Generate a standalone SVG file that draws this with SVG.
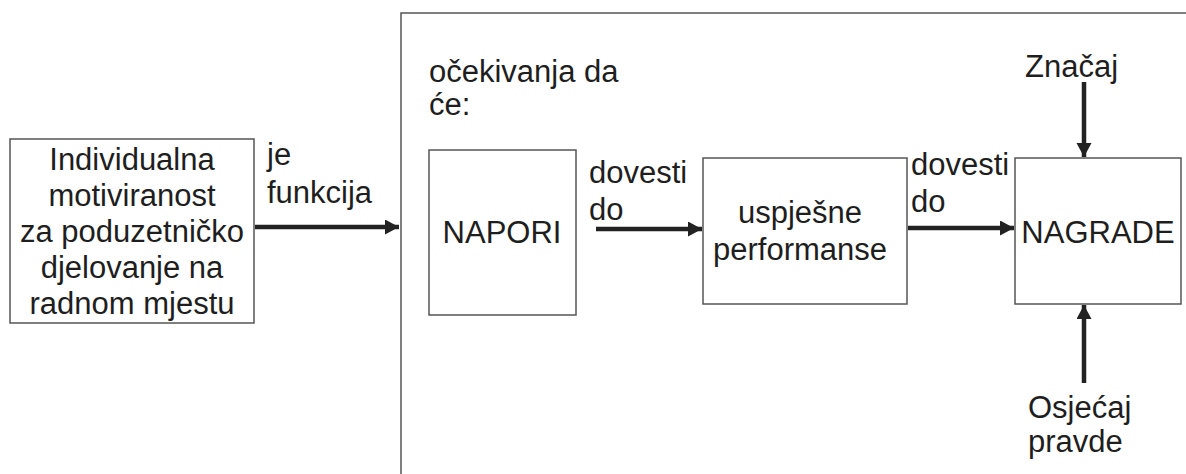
<svg xmlns="http://www.w3.org/2000/svg" width="1186" height="474" viewBox="0 0 1186 474">
<style>
.box{fill:#fff;stroke:#555;stroke-width:1.5}
.frame{fill:none;stroke:#555;stroke-width:1.5}
.t{font-family:"Liberation Sans",Arial,sans-serif;font-size:31px;fill:#1e1e1e}
.c{text-anchor:middle}
.arr{stroke:#222;stroke-width:4.5;fill:none;marker-end:url(#ah)}
</style>
<defs>
<marker id="ah" markerUnits="userSpaceOnUse" markerWidth="16" markerHeight="16" refX="14" refY="7.5" orient="auto">
<path d="M0,0 L14,7.5 L0,15 z" fill="#222"/>
</marker>
</defs>
<g id="frame">
<path class="frame" d="M401,474 L401,13 L1186,13"/>
<text class="t" x="429" y="82">očekivanja da</text>
<text class="t" x="429" y="115">će:</text>
</g>
<g id="motivacija">
<rect class="box" x="10" y="139" width="244" height="184"/>
<text class="t c" x="132" y="170">Individualna</text>
<text class="t c" x="132" y="206">motiviranost</text>
<text class="t c" x="132" y="242">za poduzetničko</text>
<text class="t c" x="132" y="278">djelovanje na</text>
<text class="t c" x="132" y="314">radnom mjestu</text>
</g>
<g id="napori">
<rect class="box" x="429" y="150" width="147" height="165"/>
<text class="t c" x="502" y="243">NAPORI</text>
</g>
<g id="performanse">
<rect class="box" x="703" y="158" width="204" height="146"/>
<text class="t c" x="800" y="223">uspješne</text>
<text class="t c" x="800" y="260">performanse</text>
</g>
<g id="nagrade">
<rect class="box" x="1015" y="158" width="166" height="146"/>
<text class="t c" x="1098" y="243">NAGRADE</text>
</g>
<g id="znacaj">
<text class="t" x="1025" y="77">Značaj</text>
</g>
<g id="osjecaj">
<text class="t" x="1028" y="418">Osjećaj</text>
<text class="t" x="1028" y="452">pravde</text>
</g>
<g id="connectors">
<line class="arr" x1="255" y1="227" x2="399" y2="227"/>
<text class="t" x="267" y="165">je</text>
<text class="t" x="267" y="203">funkcija</text>
<line class="arr" x1="596" y1="229" x2="702" y2="229"/>
<text class="t" x="589" y="183">dovesti</text>
<text class="t" x="589" y="220">do</text>
<line class="arr" x1="908" y1="228" x2="1014" y2="228"/>
<text class="t" x="911" y="175">dovesti</text>
<text class="t" x="911" y="212">do</text>
<line class="arr" x1="1084" y1="82" x2="1084" y2="157"/>
<line class="arr" x1="1084" y1="383" x2="1084" y2="305"/>
</g>
</svg>
